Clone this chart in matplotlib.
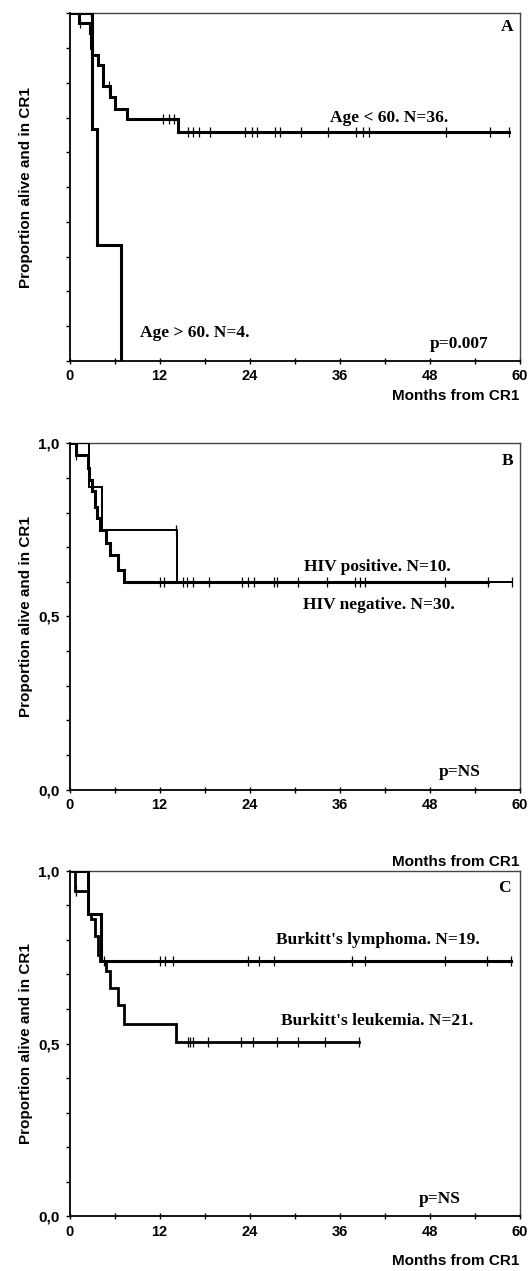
import matplotlib
matplotlib.use("Agg")
import matplotlib.pyplot as plt
import numpy as np
from matplotlib.ticker import MultipleLocator, FixedLocator

# ---------------- data (months, survival proportion) ----------------
# Panel A
a_young_t = [1.3, 2.7, 2.8, 2.9, 3.0, 3.8, 4.5, 5.4, 6.1, 7.6, 14.5]
a_young_s = [0.972, 0.944, 0.917, 0.90, 0.88, 0.85, 0.79, 0.758, 0.726, 0.695, 0.659]
a_young_end = 58.6
a_young_cens = [1.4, 5.3, 12.4, 13.2, 13.9, 15.8, 16.5, 17.2, 18.7, 23.4, 24.3,
                25.0, 27.4, 28.1, 30.9, 34.5, 38.2, 39.1, 39.9, 50.2, 56.0, 58.6]
a_old_t = [3.0, 3.6, 6.8]
a_old_s = [0.667, 0.333, 0.0]
a_old_end = 6.8
a_old_cens = [2.9]

# Panel B
b_pos_t = [2.6, 4.3, 14.3]
b_pos_s = [0.875, 0.75, 0.60]
b_pos_end = 59.0
b_pos_cens = [14.2, 23.8, 38.7, 50.0, 59.0]
b_neg_t = [0.9, 2.4, 2.6, 3.0, 3.4, 3.7, 4.1, 4.9, 5.4, 6.4, 7.3]
b_neg_s = [0.967, 0.93, 0.895, 0.861, 0.817, 0.785, 0.75, 0.712, 0.678, 0.634, 0.60]
b_neg_end = 55.8
b_neg_cens = [0.9, 12.0, 12.6, 15.1, 15.7, 16.4, 18.6, 23.0, 24.6, 27.2, 27.7,
              30.5, 34.3, 38.1, 39.4, 55.8]

# Panel C
c_lym_t = [2.4, 4.2]
c_lym_s = [0.875, 0.74]
c_lym_end = 58.9
c_lym_cens = [4.6, 12.0, 12.7, 13.8, 23.8, 25.2, 27.2, 37.7, 39.4, 50.0, 55.7, 58.9]
c_leu_t = [0.73, 2.4, 2.8, 3.4, 3.8, 4.1, 4.9, 5.4, 6.4, 7.3, 14.2]
c_leu_s = [0.94, 0.875, 0.859, 0.81, 0.757, 0.738, 0.709, 0.661, 0.61, 0.557, 0.503]
c_leu_end = 38.6
c_leu_cens = [0.8, 15.8, 16.1, 16.4, 18.5, 22.8, 24.4, 27.7, 30.4, 34.1, 38.6]

x_ticks = [0, 12, 24, 36, 48, 60]
panel_letters = ["A", "B", "C"]

# ---------------- drawing ----------------
W, H = 532, 1271
fig = plt.figure(figsize=(W / 100, H / 100), dpi=100)

SANS = ["Liberation Sans", "DejaVu Sans"]
SERIF = ["Liberation Serif", "DejaVu Serif"]


def px_axes(top, bottom, left=69.5, right=519.5):
    return fig.add_axes([left / W, 1 - bottom / H, (right - left) / W, (bottom - top) / H])


def km(ax, t, s, end, cens, lw):
    tt = np.r_[0.0, np.asarray(t, float), end]
    ss = np.r_[1.0, np.asarray(s, float), s[-1]]
    ax.step(tt, ss, where="post", color="black", lw=lw, solid_joinstyle="miter", zorder=3)
    full_t = np.asarray(t, float)
    full_s = np.r_[1.0, np.asarray(s, float)]
    idx = np.searchsorted(full_t, np.asarray(cens, float), side="right")
    ax.plot(cens, full_s[idx], ls="none", marker="|", ms=7, mew=0.9, color="black", zorder=4)


def style(ax, ylabels, xlabel_pad):
    ax.set_xlim(0, 60)
    ax.set_ylim(0, 1)
    for side in ["top", "right"]:
        ax.spines[side].set_linewidth(1.0)
        ax.spines[side].set_color("#444444")
    for side in ["left", "bottom"]:
        ax.spines[side].set_linewidth(1.3)
        ax.spines[side].set_color("black")
    ax.xaxis.set_major_locator(FixedLocator(x_ticks))
    ax.xaxis.set_minor_locator(MultipleLocator(6))
    ax.tick_params(axis="x", which="both", direction="inout", length=4, width=1, pad=4)
    ax.yaxis.set_minor_locator(MultipleLocator(0.1))
    if ylabels:
        ax.set_yticks([0, 0.5, 1.0])
        ax.set_yticklabels(["0,0", "0,5", "1,0"])
    else:
        ax.set_yticks([0, 1.0])
        ax.set_yticklabels([])
    ax.tick_params(axis="y", which="both", direction="out", length=3, width=1, pad=4)
    for lab in ax.get_xticklabels():
        lab.set_fontfamily(SANS)
        lab.set_fontweight("bold")
        lab.set_fontsize(10.5)
    for lab in ax.get_yticklabels():
        lab.set_fontfamily(SANS)
        lab.set_fontweight("bold")
        lab.set_fontsize(11)
    ax.set_ylabel("Proportion alive and in CR1", fontfamily=SANS, fontweight="bold", fontsize=11)
    ax.yaxis.set_label_coords(-0.081, 0.5)
    ax.text(1.0, xlabel_pad, "Months from CR1", transform=ax.transAxes, ha="right", va="center",
            fontfamily=SANS, fontweight="bold", fontsize=11)


def note(ax, x, y, s, ha="center"):
    ax.text(x, y, s, ha=ha, va="center", fontfamily=SERIF, fontweight="bold", fontsize=12.5)


# Panel A
axA = px_axes(13.3, 361)
km(axA, a_young_t, a_young_s, a_young_end, a_young_cens, 2.2)
km(axA, a_old_t, a_old_s, a_old_end, a_old_cens, 2.2)
style(axA, False, -0.1)
note(axA, 42.6, 0.70, "Age < 60. N=36.")
note(axA, 16.7, 0.081, "Age > 60. N=4.")
note(axA, 52.0, 0.05, "p=0.007")
note(axA, 58.4, 0.96, panel_letters[0])

# Panel B
axB = px_axes(443.3, 789.5)
km(axB, b_neg_t, b_neg_s, b_neg_end, b_neg_cens, 2.2)
km(axB, b_pos_t, b_pos_s, b_pos_end, b_pos_cens, 1.4)
style(axB, True, -0.21)
note(axB, 41.0, 0.643, "HIV positive. N=10.")
note(axB, 41.3, 0.533, "HIV negative. N=30.")
note(axB, 52.0, 0.05, "p=NS")
note(axB, 58.4, 0.95, panel_letters[1])

# Panel C
axC = px_axes(870.7, 1216.3)
km(axC, c_lym_t, c_lym_s, c_lym_end, c_lym_cens, 2.2)
km(axC, c_leu_t, c_leu_s, c_leu_end, c_leu_cens, 2.0)
style(axC, True, -0.13)
note(axC, 41.1, 0.80, "Burkitt's lymphoma. N=19.")
note(axC, 41.0, 0.564, "Burkitt's leukemia. N=21.")
note(axC, 49.3, 0.05, "p=NS")
note(axC, 58.0, 0.95, panel_letters[2])

fig.savefig("out.png", dpi=100)
